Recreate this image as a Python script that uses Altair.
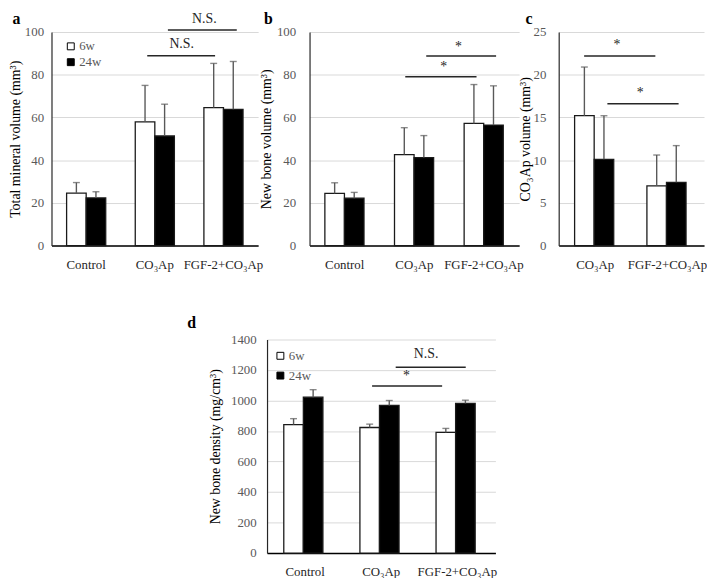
import altair as alt
import pandas as pd

FONT = "Liberation Serif"
weeks = ["6w", "24w"]

# ---- panel a : Total mineral volume ----
a_groups = ["Control", "CO₃Ap", "FGF-2+CO₃Ap"]
a_6w = [24.6, 57.9, 64.6]
a_6w_err = [29.5, 75.0, 85.3]
a_24w = [22.3, 51.3, 63.8]
a_24w_err = [25.2, 66.2, 86.2]
a_sig_x1 = [1.39, 1.69]
a_sig_x2 = [2.375, 2.69]
a_sig_y = [88.9, 100.9]
a_sig_tx = [1.89, 2.22]
a_sig_ty = [94.5, 106.0]
a_sig_text = ["N.S.", "N.S."]
a_letter = ["a", -0.51, 106.0]

# ---- panel b : New bone volume ----
b_groups = ["Control", "CO₃Ap", "FGF-2+CO₃Ap"]
b_6w = [24.4, 42.6, 57.2]
b_6w_err = [29.4, 55.2, 75.4]
b_24w = [22.2, 41.2, 56.4]
b_24w_err = [24.9, 51.5, 74.8]
b_sig_x1 = [1.37, 1.67]
b_sig_x2 = [2.39, 2.67]
b_sig_y = [79.0, 88.8]
b_sig_tx = [1.92, 2.13]
b_sig_ty = [83.6, 93.0]
b_sig_text = ["*", "*"]
b_letter = ["b", -0.59, 106.0]

# ---- panel c : CO3Ap volume ----
c_groups = ["CO₃Ap", "FGF-2+CO₃Ap"]
c_6w = [15.2, 7.0]
c_6w_err = [20.9, 10.6]
c_24w = [10.1, 7.4]
c_24w_err = [15.2, 11.7]
c_sig_x1 = [0.35, 0.67]
c_sig_x2 = [1.33, 1.65]
c_sig_y = [22.2, 16.6]
c_sig_tx = [0.80, 1.12]
c_sig_ty = [23.5, 17.9]
c_sig_text = ["*", "*"]
c_letter = ["c", -0.41, 26.5]

# ---- panel d : New bone density ----
d_groups = ["Control", "CO₃Ap", "FGF-2+CO₃Ap"]
d_6w = [842, 823, 791]
d_6w_err = [881, 845, 817]
d_24w = [1022, 968, 981]
d_24w_err = [1071, 1000, 1002]
d_sig_x1 = [1.38, 1.69]
d_sig_x2 = [2.30, 2.61]
d_sig_y = [1095, 1218]
d_sig_tx = [1.83, 2.09]
d_sig_ty = [1160, 1303]
d_sig_text = ["*", "N.S."]
d_letter = ["d", -0.99, 1510]


def panel(letter, groups, v6, e6, v24, e24, sx1, sx2, sy, stx, sty, stext,
          ymax, ystep, ytitle, width, height, pin, lab_pad, title_pad, legend):
    n = len(groups)
    df = pd.DataFrame({
        "group": groups * 2,
        "week": ["6w"] * n + ["24w"] * n,
        "value": v6 + v24,
        "upper": e6 + e24,
    })
    sig = pd.DataFrame({"x1": sx1, "x2": sx2, "y": sy, "tx": stx, "ty": sty,
                        "label": stext})
    let = pd.DataFrame({"label": [letter[0]], "tx": [letter[1]], "ty": [letter[2]]})
    yscale = alt.Scale(domain=[0, ymax], nice=False)
    yaxis = alt.Axis(values=list(range(0, ymax + 1, ystep)), title=ytitle,
                     labelPadding=lab_pad, titlePadding=title_pad, format="d")

    def ye(field):
        return alt.Y(field, type="quantitative", scale=yscale, axis=yaxis)

    xscale = alt.Scale(paddingInner=pin, paddingOuter=0.22)

    def xe(show):
        return alt.X("group:N", sort=groups, scale=xscale,
                     axis=alt.Axis(title=None, labelAngle=0, labelPadding=13)
                     if show else None)

    xo = alt.XOffset("week:N", sort=weeks,
                     scale=alt.Scale(paddingInner=0, paddingOuter=0))
    fill = alt.Fill("week:N", sort=weeks,
                    scale=alt.Scale(domain=weeks, range=["white", "black"]),
                    legend=legend)

    bars = alt.Chart(df).mark_bar(stroke="#1a1a1a", strokeWidth=1.3).encode(
        x=xe(True), xOffset=xo, y=ye("value"), fill=fill)
    errs = alt.Chart(df).mark_rule(color="#595959", strokeWidth=1.4).encode(
        x=xe(False), xOffset=xo, y=ye("value"), y2="upper:Q")
    caps = alt.Chart(df).mark_tick(color="#595959", thickness=1.4, size=7).encode(
        x=xe(False), xOffset=xo, y=ye("upper"))

    qx = alt.Scale(domain=[0, n], nice=False, zero=False)
    lines = alt.Chart(sig).mark_rule(color="#262626", strokeWidth=1.5).encode(
        x=alt.X("x1:Q", scale=qx, axis=None), x2="x2:Q", y=ye("y"))
    texts = alt.Chart(sig).mark_text(font=FONT, fontSize=14, color="#262626",
                                      baseline="middle").encode(
        x=alt.X("tx:Q", scale=qx, axis=None), y=ye("ty"), text="label:N")
    letters = alt.Chart(let).mark_text(font=FONT, fontSize=16, fontWeight="bold",
                                        color="black", baseline="middle").encode(
        x=alt.X("tx:Q", scale=qx, axis=None), y=ye("ty"), text="label:N")

    return alt.layer(bars, errs, caps, lines, texts, letters).resolve_scale(
        x="independent").properties(width=width, height=height)


def leg(lx, ly, rowpad):
    return alt.Legend(title=None, orient="none", legendX=lx, legendY=ly,
                      symbolType="square", symbolSize=49,
                      symbolStrokeColor="black", symbolStrokeWidth=1,
                      labelFont=FONT, labelFontSize=13, labelColor="#595959",
                      rowPadding=rowpad, labelOffset=2, padding=0)


pa = panel(a_letter, a_groups, a_6w, a_6w_err, a_24w, a_24w_err, a_sig_x1,
           a_sig_x2, a_sig_y, a_sig_tx, a_sig_ty, a_sig_text, 100, 20,
           "Total mineral volume (mm³)", 209, 216, 0.43, 8, 2, leg(13, 8, 2))
pb = panel(b_letter, b_groups, b_6w, b_6w_err, b_24w, b_24w_err, b_sig_x1,
           b_sig_x2, b_sig_y, b_sig_tx, b_sig_ty, b_sig_text, 100, 20,
           "New bone  volume (mm³)", 212, 216, 0.43, 14, 3, None)
pc = panel(c_letter, c_groups, c_6w, c_6w_err, c_24w, c_24w_err, c_sig_x1,
           c_sig_x2, c_sig_y, c_sig_tx, c_sig_ty, c_sig_text, 25, 5,
           "CO₃Ap volume (mm³)", 147, 216, 0.43, 13, 1, None)
pd_ = panel(d_letter, d_groups, d_6w, d_6w_err, d_24w, d_24w_err, d_sig_x1,
            d_sig_x2, d_sig_y, d_sig_tx, d_sig_ty, d_sig_text, 1400, 200,
            "New bone  density (mg/cm³)", 231, 216, 0.44, 11, 8, leg(7, 10, 6))

spacer = alt.Chart(pd.DataFrame({"s": [""]})).mark_text().encode(
    text="s:N").properties(width=208, height=216)

# nested concatenations with flush bounds: a nested group counts as zero size,
# so spacings below are offsets between plot origins
ab = alt.hconcat(pa, pb, spacing=52, bounds="flush").resolve_scale(
    fill="independent").resolve_legend(fill="independent")
top = alt.hconcat(ab, pc, spacing=513, bounds="flush").resolve_scale(
    fill="independent").resolve_legend(fill="independent")
bottom = alt.hconcat(spacer, pd_, spacing=10, bounds="flush").resolve_scale(
    fill="independent").resolve_legend(fill="independent")

chart = alt.vconcat(top, bottom, spacing=311, bounds="flush").resolve_scale(
    fill="independent").resolve_legend(fill="independent").properties(
    padding=0, background="white"
).configure_view(stroke=None).configure_axis(
    labelFont=FONT, titleFont=FONT, labelFontSize=13, titleFontSize=14,
    titleFontWeight="normal", titleColor="black", ticks=False
).configure_axisY(
    grid=True, gridColor="#d9d9d9", gridWidth=1, domainColor="#262626",
    domainWidth=1.2, labelColor="#595959"
).configure_axisX(
    grid=False, domainColor="black", domainWidth=1.5, labelColor="#262626"
).configure_legend(labelFont=FONT, labelFontSize=13, labelColor="#595959")

chart.save("out.html", embed_options={"renderer": "svg", "actions": False})
